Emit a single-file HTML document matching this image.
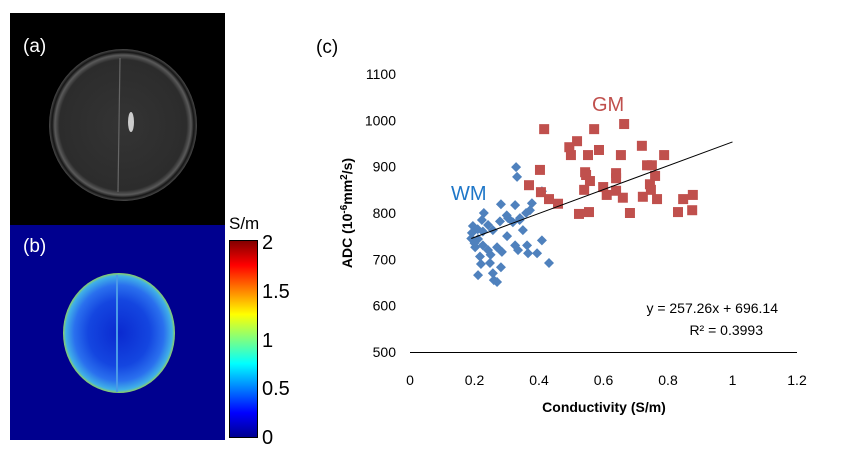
<!DOCTYPE html>
<html><head><meta charset="utf-8"><style>
body{margin:0;background:#fff;width:842px;height:460px;overflow:hidden;font-family:"Liberation Sans",Arial,sans-serif}
</style></head><body>
<svg width="842" height="460" xmlns="http://www.w3.org/2000/svg" style="position:absolute;left:0;top:0">
<defs>
<radialGradient id="brainA" cx="50%" cy="50%" r="50%"><stop offset="0" stop-color="#343434"/><stop offset="0.86" stop-color="#2c2c2c"/><stop offset="0.92" stop-color="#5a5a5a"/><stop offset="0.96" stop-color="#151515"/><stop offset="1" stop-color="#4a4a4a"/></radialGradient>
<radialGradient id="brainB" cx="50%" cy="50%" r="50%"><stop offset="0" stop-color="#0a2ad0"/><stop offset="0.55" stop-color="#1446e0"/><stop offset="0.8" stop-color="#2a70ee"/><stop offset="0.95" stop-color="#40b0e8"/><stop offset="1" stop-color="#90d060"/></radialGradient>
<linearGradient id="jet" x1="0" y1="1" x2="0" y2="0"><stop offset="0" stop-color="#00008f"/><stop offset="0.125" stop-color="#0000ff"/><stop offset="0.375" stop-color="#00ffff"/><stop offset="0.625" stop-color="#ffff00"/><stop offset="0.875" stop-color="#ff0000"/><stop offset="1" stop-color="#800000"/></linearGradient>
</defs>
<g>
<rect x="10" y="13" width="215" height="212" fill="#000"/>
<ellipse cx="123" cy="125" rx="74" ry="76" fill="url(#brainA)"/>
<line x1="120" y1="58" x2="118" y2="192" stroke="#666" stroke-width="1.2"/>
<ellipse cx="131" cy="122" rx="3" ry="10" fill="#ccc"/>
<text x="23" y="52" fill="#fff" font-size="19">(a)</text>
</g>
<g>
<rect x="10" y="225" width="215" height="215" fill="#00008f"/>
<ellipse cx="119" cy="333" rx="56" ry="60" fill="url(#brainB)"/>
<line x1="117" y1="275" x2="117" y2="392" stroke="#4a9ae8" stroke-width="2"/>
<text x="23" y="252" fill="#fff" font-size="19">(b)</text>
</g>
<g>
<rect x="229.5" y="240.5" width="28" height="197" fill="url(#jet)" stroke="#000"/>
<text x="229" y="229" font-size="17">S/m</text>
<text x="262" y="249" font-size="20">2</text>
<text x="262" y="298" font-size="20">1.5</text>
<text x="262" y="347" font-size="20">1</text>
<text x="262" y="395" font-size="20">0.5</text>
<text x="262" y="444" font-size="20">0</text>
</g>
<text x="316" y="53" font-size="19">(c)</text>
<g id="chart"></g>
</svg>
<script>
const xTicks=[0,0.2,0.4,0.6,0.8,1,1.2];
const yTicks=[500,600,700,800,900,1000,1100];
const gmX=[0.416,0.571,0.664,0.518,0.494,0.499,0.552,0.586,0.654,0.719,0.788,0.403,0.543,0.546,0.558,0.639,0.639,0.735,0.75,0.76,0.744,0.747,0.369,0.406,0.431,0.459,0.54,0.599,0.61,0.639,0.66,0.722,0.766,0.847,0.877,0.875,0.831,0.682,0.555,0.524];
const gmY=[981,981,992,955,942,925,925,936,925,945,925,893,888,882,869,886,875,903,903,880,862,850,860,845,830,820,850,856,839,848,833,835,830,830,839,806,802,800,802,798];
const wmX=[0.329,0.332,0.409,0.282,0.326,0.378,0.372,0.229,0.223,0.279,0.304,0.319,0.341,0.36,0.195,0.242,0.257,0.192,0.35,0.34,0.211,0.226,0.301,0.202,0.226,0.242,0.27,0.285,0.326,0.335,0.363,0.409,0.217,0.25,0.366,0.394,0.248,0.282,0.431,0.211,0.257,0.27,0.26,0.19,0.2,0.21,0.22,0.3];
const wmY=[899,878,847,819,817,821,806,800,785,782,789,780,789,800,772,774,763,757,763,785,744,760,750,726,730,720,726,716,730,720,730,741,706,710,713,713,692,683,692,666,670,651,655,745,735,765,690,795];
const slope=257.26, intercept=696.14;
const ns="http://www.w3.org/2000/svg";
const g=document.getElementById('chart');
const X0=410,X1=797,Y0=352,Y1=74;
const sx=v=>X0+(v-0)/1.2*(X1-X0);
const sy=v=>Y0-(v-500)/600*(Y0-Y1);
function mk(t,a){const e=document.createElementNS(ns,t);for(const k in a)e.setAttribute(k,a[k]);g.appendChild(e);return e;}
let ax=mk('line',{x1:X0,y1:Y0+0.5,x2:X1,y2:Y0+0.5,stroke:'#000'});


xTicks.forEach(v=>{const t=mk('text',{x:sx(v),y:385,'font-size':14,'text-anchor':'middle'});t.textContent=v;

});
yTicks.forEach(v=>{const t=mk('text',{x:396,y:sy(v)+5,'font-size':14,'text-anchor':'end'});t.textContent=v;

});
wmX.forEach((x,i)=>{const cx=sx(x),cy=sy(wmY[i]);const p=mk('polygon',{points:`${cx},${cy-5} ${cx+5},${cy} ${cx},${cy+5} ${cx-5},${cy}`,fill:'#4f81bd'});

});
gmX.forEach((x,i)=>{const r=mk('rect',{x:sx(x)-5,y:sy(gmY[i])-5,width:10,height:10,fill:'#c0504d'});

});
const tl=mk('line',{x1:sx(0.19),y1:sy(slope*0.19+intercept),x2:sx(1),y2:sy(slope+intercept),stroke:'#000','stroke-width':1});


let t;
t=mk('text',{x:592,y:111,'font-size':20,fill:'#c0504d'});t.textContent='GM';


t=mk('text',{x:451,y:200,'font-size':20,fill:'#1f77c8'});t.textContent='WM';


t=mk('text',{x:778,y:313,'font-size':14,'text-anchor':'end'});t.textContent='y = 257.26x + 696.14';


t=mk('text',{x:763,y:335,'font-size':14,'text-anchor':'end'});t.textContent='R² = 0.3993';


t=mk('text',{x:604,y:412,'font-size':14,'font-weight':'bold','text-anchor':'middle'});t.textContent='Conductivity  (S/m)';


t=mk('text',{transform:'translate(352,213) rotate(-90)','font-size':14,'font-weight':'bold','text-anchor':'middle'});
t.innerHTML='ADC (10<tspan dy="-5" font-size="10">-6</tspan><tspan dy="5">mm</tspan><tspan dy="-5" font-size="10">2</tspan><tspan dy="5">/s)</tspan>';


</script>
</body></html>
